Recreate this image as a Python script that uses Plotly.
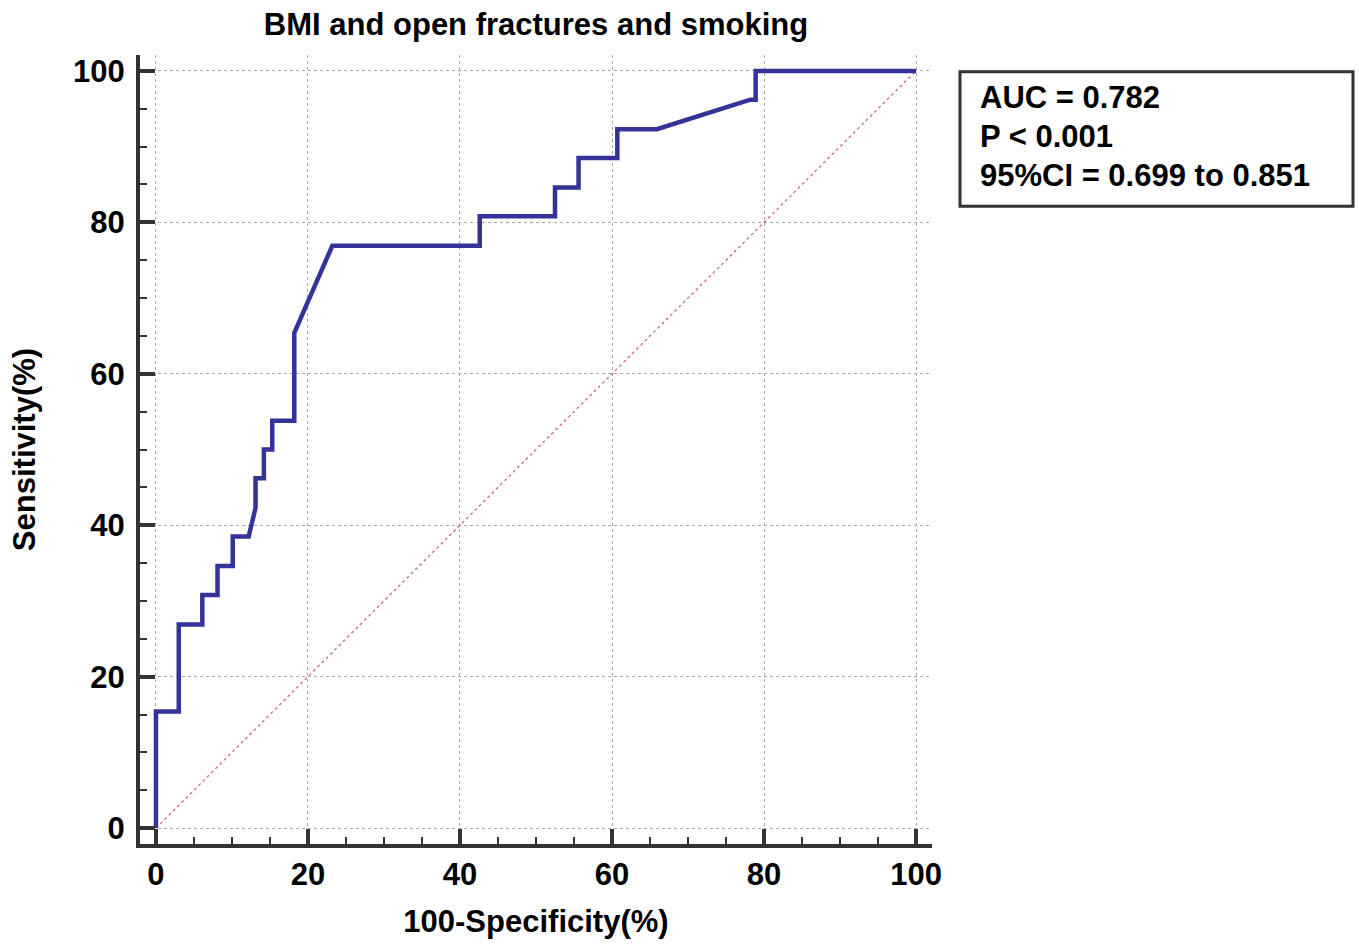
import plotly.graph_objects as go

# ROC curve points (100-Specificity %, Sensitivity %)
fpr = [0, 0, 3.0, 3.0, 6.1, 6.1, 8.1, 8.1, 10.1, 10.1, 12.2, 13.1, 13.1, 14.2, 14.2,
       15.3, 15.3, 18.2, 18.2, 23.2, 42.6, 42.6, 52.5, 52.5, 55.6, 55.6, 60.7, 60.7,
       65.9, 78.2, 78.9, 78.9, 100]
tpr = [0, 15.4, 15.4, 26.9, 26.9, 30.8, 30.8, 34.6, 34.6, 38.5, 38.5, 42.3, 46.2, 46.2, 50.0,
       50.0, 53.8, 53.8, 65.4, 76.9, 76.9, 80.8, 80.8, 84.6, 84.6, 88.5, 88.5, 92.3,
       92.3, 96.2, 96.2, 100, 100]
diag_x = [0, 100]
diag_y = [0, 100]
tick_vals = [0, 20, 40, 60, 80, 100]
stats_lines = ["AUC = 0.782", "P < 0.001", "95%CI = 0.699 to 0.851"]
title_text = "BMI and open fractures and smoking"
x_title = "100-Specificity(%)"
y_title = "Sensitivity(%)"

FONT = "Arial, 'Liberation Sans', sans-serif"
FS = 31
W, H = 1359, 946
L, R, T, B = 140, 427, 55, 100
pw, ph = W - L - R, H - T - B

def px_x(p):
    return (p - L) / pw

def px_y(p):
    return (H - B - p) / ph

def bold(size=FS):
    return dict(family=FONT, size=size, color="black", weight="bold")

fig = go.Figure()
fig.add_trace(go.Scatter(x=diag_x, y=diag_y, mode="lines",
                         line=dict(color="rgb(205,110,110)", width=1.3, dash="dot"),
                         hoverinfo="skip", showlegend=False))
fig.add_trace(go.Scatter(x=fpr, y=tpr, mode="lines",
                         line=dict(color="rgb(51,51,153)", width=4.5),
                         showlegend=False))

axis_common = dict(
    range=[-2.1, 102.1],
    tickvals=tick_vals,
    ticks="inside", ticklen=15, tickwidth=4, tickcolor="#333333",
    showline=True, linewidth=4, linecolor="#333333",
    showgrid=True, gridcolor="#a8a8a8", griddash="dot", gridwidth=1,
    zeroline=False,
    tickfont=bold(),
    minor=dict(dtick=5, tick0=0, ticks="inside", ticklen=7, tickwidth=2,
               tickcolor="#333333", showgrid=False),
    fixedrange=True,
)

fig.update_layout(
    width=W, height=H,
    margin=dict(l=L, r=R, t=T, b=B, pad=0),
    paper_bgcolor="white", plot_bgcolor="white",
    title=dict(text=title_text, x=0.5, xref="paper", xanchor="center",
               y=1 - 24 / H, yref="container", yanchor="middle",
               font=bold()),
    xaxis=dict(**axis_common,
               title=dict(text=x_title, standoff=20, font=bold()),
               ticklabelstandoff=0),
    yaxis=dict(**axis_common,
               title=dict(text=y_title, standoff=29, font=bold()),
               ticklabelstandoff=5),
)

# stats box
fig.add_shape(type="rect", xref="paper", yref="paper",
              x0=px_x(960), x1=px_x(1353), y0=px_y(206.7), y1=px_y(71.7),
              line=dict(color="#333333", width=3), fillcolor="white", layer="above")
line_centers_px = [98, 137, 176]
for txt, cy in zip(stats_lines, line_centers_px):
    fig.add_annotation(xref="paper", yref="paper", x=px_x(978), y=px_y(cy),
                       xanchor="left", yanchor="middle", align="left", showarrow=False,
                       text=txt, font=bold())

fig.write_html("out.html")
